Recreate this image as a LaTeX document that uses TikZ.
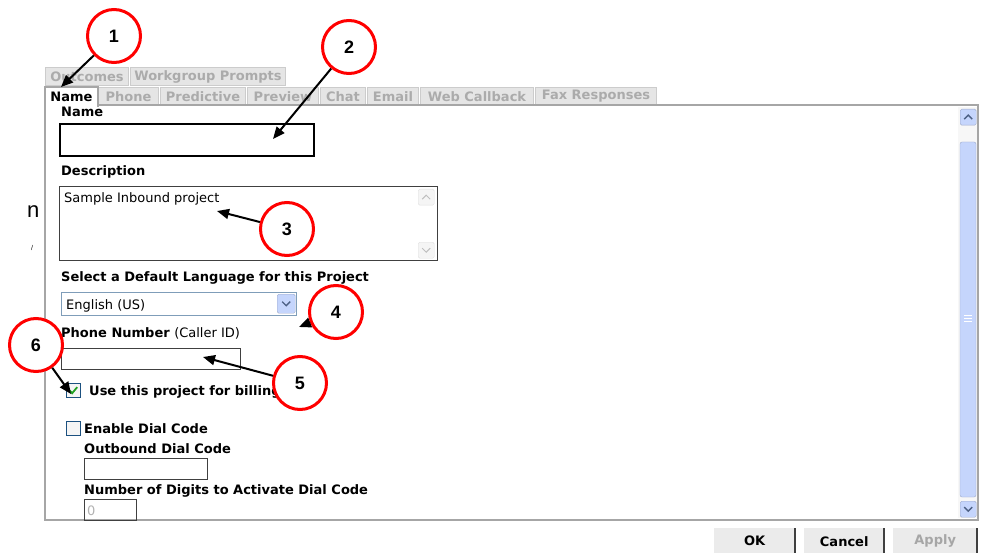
\documentclass[tikz,border=0pt]{standalone}
\usepackage{fontspec}
\setmainfont{DejaVu Sans}
\newfontfamily\calloutfont{Liberation Sans}
\usetikzlibrary{positioning,arrows.meta}
\definecolor{sbblue}{RGB}{197,213,252}
\definecolor{sbdark}{RGB}{77,97,133}
\definecolor{ddborder}{RGB}{127,157,185}
\definecolor{cbborder}{RGB}{28,81,128}
\definecolor{checkgreen}{RGB}{33,161,33}

\begin{document}
\begin{tikzpicture}[x=1pt,y=-1pt]
\tikzset{lbl/.style={anchor=base west,inner sep=0pt,font=\fontsize{13}{15}\selectfont\bfseries}}
\tikzset{txt/.style={anchor=base west,inner sep=0pt,font=\fontsize{13}{15}\selectfont}}
\tikzset{tabnode/.style={anchor=north west,draw=black!20,fill=black!10,line width=1pt,minimum height=18pt,inner sep=0pt,text=black!33,font=\fontsize{13}{15}\selectfont\bfseries}}
\tikzset{field/.style={anchor=north west,draw=black!75,line width=1pt,inner sep=0pt}}
\tikzset{smallbtn/.style={anchor=north west,inner sep=0pt,rounded corners=1.5pt}}
\tikzset{chev/.style={line width=1.4pt}}
\tikzset{checkbox/.style={anchor=north west,draw=cbborder,fill=black!4,minimum size=14pt,inner sep=0pt}}
\tikzset{button/.style={anchor=north west,fill=black!8,minimum height=26pt,inner sep=0pt,font=\fontsize{13}{15}\selectfont\bfseries}}
\tikzset{callout/.style={circle,draw=red,line width=3pt,fill=white,minimum size=53pt,inner sep=0pt,font=\calloutfont\fontsize{18}{18}\selectfont\bfseries}}
\tikzset{callarrow/.style={-{Triangle[length=12pt,width=10pt]},line width=2pt}}
\useasboundingbox (0,0) rectangle (984,553);
\node[anchor=base west,inner sep=0pt,font=\calloutfont\fontsize{22}{22}\selectfont] (strayn) at (27,218) {n};
\node[anchor=base west,inner sep=0pt,font=\calloutfont\fontsize{7}{7}\selectfont] (straymark) at (31,251) {/};
\node[tabnode,minimum width=83pt] (toutcomes) at (45,67) {Outcomes};
\node[tabnode,minimum width=155pt] (tworkgroup) at (130,67) {Workgroup Prompts};
\node[tabnode,minimum width=60pt] (tphone) at (98,87) {Phone};
\node[tabnode,minimum width=85pt] (tpredictive) at (160,87) {Predictive};
\node[tabnode,minimum width=71pt] (tpreview) at (247,87) {Preview};
\node[tabnode,minimum width=45pt] (tchat) at (320,87) {Chat};
\node[tabnode,minimum width=51pt] (temail) at (367,87) {Email};
\node[tabnode,minimum width=113pt] (twebcallback) at (420,87) {Web Callback};
\node[tabnode,minimum width=121pt] (tfax) at (535,87) {Fax Responses};
\draw[black!35,line width=1.5pt] (97,105) -- (978,105) -- (978,520) -- (45,520) -- (45,106);
\node[tabnode,fill=white,draw=none,text=black,minimum width=52pt,minimum height=19pt] (tname) at (45,87) {Name};
\draw[black!35,line width=1.5pt] (tname.south west) |- (tname.north east) -- (tname.south east);
\fill[black!3] (958,107) rectangle (977,518);
\draw[sbblue!80!black,fill=sbblue,rounded corners=2pt] (960,142) rectangle (976,497);
\foreach \gy in {315,318,321} \draw[white,line width=0.8pt] (964,\gy) -- (972,\gy);
\node[smallbtn,draw=sbblue!80!black,fill=sbblue,minimum size=16pt] (sbup) at (960,109) {};
\node[smallbtn,draw=sbblue!80!black,fill=sbblue,minimum size=16pt] (sbdown) at (960,501) {};
\draw[chev,sbdark] ([shift={(-4pt,-2pt)}]sbup.center) -- ([shift={(0pt,2pt)}]sbup.center) -- ([shift={(4pt,-2pt)}]sbup.center);
\draw[chev,sbdark] ([shift={(-4pt,2pt)}]sbdown.center) -- ([shift={(0pt,-2pt)}]sbdown.center) -- ([shift={(4pt,2pt)}]sbdown.center);
\node[lbl] (lname) at (61,117) {Name};
\node[field,draw=black,line width=2pt,minimum width=254pt,minimum height=32pt] (fname) at (59,123) {};
\node[lbl] (ldesc) at (61,176) {Description};
\node[field,minimum width=378pt,minimum height=74pt] (fdesc) at (59,186) {};
\node[txt] (tdesc) at (64,203) {Sample Inbound project};
\node[smallbtn,draw=black!12,fill=black!4,minimum size=16pt] (descup) at (418,189) {};
\node[smallbtn,draw=black!12,fill=black!4,minimum size=16pt] (descdown) at (418,242) {};
\draw[chev,black!25,line width=1pt] ([shift={(-4pt,-2pt)}]descup.center) -- ([shift={(0pt,2pt)}]descup.center) -- ([shift={(4pt,-2pt)}]descup.center);
\draw[chev,black!25,line width=1pt] ([shift={(-4pt,2pt)}]descdown.center) -- ([shift={(0pt,-2pt)}]descdown.center) -- ([shift={(4pt,2pt)}]descdown.center);
\node[lbl] (llang) at (61,281) {Select a Default Language for this Project};
\node[field,draw=ddborder,minimum width=235pt,minimum height=23pt] (flang) at (61,292) {};
\node[txt] (tlang) at (66,309) {English (US)};
\node[smallbtn,draw=sbblue!80!black,fill=sbblue,minimum width=18pt,minimum height=19pt] (langbtn) at (277,294) {};
\draw[chev,sbdark] ([shift={(-4pt,2pt)}]langbtn.center) -- ([shift={(0pt,-2pt)}]langbtn.center) -- ([shift={(4pt,2pt)}]langbtn.center);
\node[lbl] (lphone) at (61,337) {Phone Number \mdseries(Caller ID)};
\node[field,minimum width=179pt,minimum height=21pt] (fphone) at (61,348) {};
\node[checkbox] (cbbilling) at (66,383) {};
\draw[checkgreen,line width=1.8pt] ([shift={(-4pt,0pt)}]cbbilling.center) -- ([shift={(-1pt,-3pt)}]cbbilling.center) -- ([shift={(4pt,3pt)}]cbbilling.center);
\node[lbl] (lbilling) at (89,395) {Use this project for billing};
\node[checkbox] (cbdial) at (66,421) {};
\node[lbl] (ldial) at (84,433) {Enable Dial Code};
\node[lbl] (loutbound) at (84,453) {Outbound Dial Code};
\node[field,minimum width=123pt,minimum height=21pt] (foutbound) at (84,458) {};
\node[lbl] (ldigits) at (84,494) {Number of Digits to Activate Dial Code};
\node[field,minimum width=52pt,minimum height=21pt] (fdigits) at (84,499) {};
\node[txt,text=black!30] (tdigits) at (87,515) {0};
\node[button,minimum width=81pt] (bok) at (714,528) {OK};
\node[button,minimum width=80pt] (bcancel) at (804,528) {Cancel};
\node[button,minimum width=84pt,text=black!35] (bapply) at (893,528) {Apply};
\foreach \b in {bok,bcancel,bapply} \draw[black!75,line width=2pt] (\b.north east) -- (\b.south east);
\node[callout] (c1) at (114,36) {1};
\node[callout] (c2) at (349,47) {2};
\node[callout] (c3) at (287,229) {3};
\node[callout] (c4) at (336,312) {4};
\node[callout] (c5) at (300,383) {5};
\node[callout] (c6) at (36,345) {6};
\coordinate (t1) at (61,87);
\coordinate (t2) at (273,139);
\coordinate (t3) at (217,211);
\coordinate (t4) at (299,327);
\coordinate (t5) at (203,357);
\coordinate (t6) at (71,394);
\foreach \i in {1,...,6} \draw[callarrow] (c\i) -- (t\i);
\end{tikzpicture}
\end{document}
